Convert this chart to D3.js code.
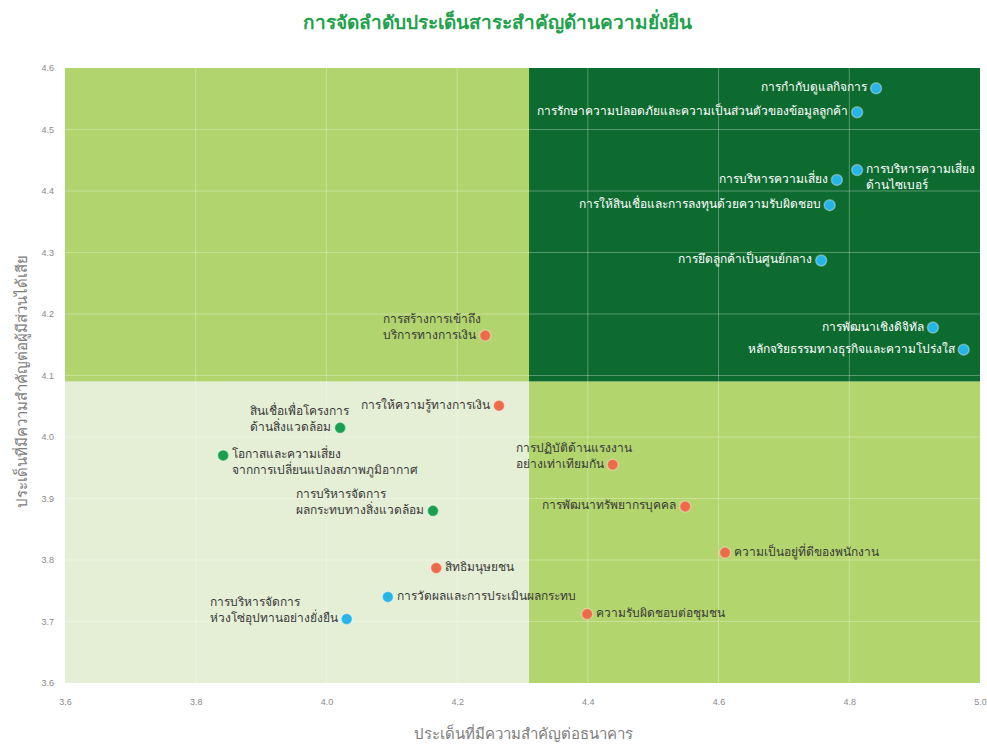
<!DOCTYPE html>
<html>
<head>
<meta charset="utf-8">
<script src="https://cdn.jsdelivr.net/npm/d3@7/dist/d3.min.js"></script>
<style>
  html, body { margin: 0; padding: 0; background: #ffffff; }
  svg { display: block; font-family: "Noto Sans", "DejaVu Sans", sans-serif; }
</style>
</head>
<body>
<svg id="chart" width="987" height="747"></svg>
<script>
// Materiality matrix: importance to the bank (x) vs importance to stakeholders (y)
const chartTitle = "การจัดลำดับประเด็นสาระสำคัญด้านความยั่งยืน";
const xTitle = "ประเด็นที่มีความสำคัญต่อธนาคาร";
const yTitle = "ประเด็นที่มีความสำคัญต่อผู้มีส่วนได้เสีย";

const xTicks = [3.6, 3.8, 4.0, 4.2, 4.4, 4.6, 4.8, 5.0];
const yTicks = [3.6, 3.7, 3.8, 3.9, 4.0, 4.1, 4.2, 4.3, 4.4, 4.5, 4.6];
const xDomain = [3.6, 5.0];
const yDomain = [3.6, 4.6];
const quadrantSplit = [4.31, 4.09]; // [x, y] thresholds

// Governance / economic topics
const governance = [
  { name: ["การกำกับดูแลกิจการ"], x: 4.841, y: 4.567, side: "left" },
  { name: ["การรักษาความปลอดภัยและความเป็นส่วนตัวของข้อมูลลูกค้า"], x: 4.812, y: 4.528, side: "left" },
  { name: ["การบริหารความเสี่ยง", "ด้านไซเบอร์"], x: 4.812, y: 4.434, side: "right" },
  { name: ["การบริหารความเสี่ยง"], x: 4.781, y: 4.418, side: "left" },
  { name: ["การให้สินเชื่อและการลงทุนด้วยความรับผิดชอบ"], x: 4.770, y: 4.377, side: "left" },
  { name: ["การยึดลูกค้าเป็นศูนย์กลาง"], x: 4.757, y: 4.287, side: "left" },
  { name: ["การพัฒนาเชิงดิจิทัล"], x: 4.928, y: 4.178, side: "left" },
  { name: ["หลักจริยธรรมทางธุรกิจและความโปร่งใส"], x: 4.975, y: 4.142, side: "left" },
  { name: ["การวัดผลและการประเมินผลกระทบ"], x: 4.094, y: 3.740, side: "right" },
  { name: ["การบริหารจัดการ", "ห่วงโซ่อุปทานอย่างยั่งยืน"], x: 4.031, y: 3.704, side: "left" }
];

// Social topics
const social = [
  { name: ["การสร้างการเข้าถึง", "บริการทางการเงิน"], x: 4.243, y: 4.165, side: "left" },
  { name: ["การให้ความรู้ทางการเงิน"], x: 4.264, y: 4.051, side: "left" },
  { name: ["การปฏิบัติด้านแรงงาน", "อย่างเท่าเทียมกัน"], x: 4.438, y: 3.955, side: "left" },
  { name: ["การพัฒนาทรัพยากรบุคคล"], x: 4.549, y: 3.887, side: "left" },
  { name: ["ความเป็นอยู่ที่ดีของพนักงาน"], x: 4.610, y: 3.812, side: "right" },
  { name: ["สิทธิมนุษยชน"], x: 4.168, y: 3.787, side: "right" },
  { name: ["ความรับผิดชอบต่อชุมชน"], x: 4.399, y: 3.712, side: "right" }
];

// Environmental topics
const environment = [
  { name: ["สินเชื่อเพื่อโครงการ", "ด้านสิ่งแวดล้อม"], x: 4.021, y: 4.015, side: "left" },
  { name: ["โอกาสและความเสี่ยง", "จากการเปลี่ยนแปลงสภาพภูมิอากาศ"], x: 3.842, y: 3.970, side: "right" },
  { name: ["การบริหารจัดการ", "ผลกระทบทางสิ่งแวดล้อม"], x: 4.163, y: 3.880, side: "left" }
];

const groups = [
  { points: governance, color: "#27b4e6" },
  { points: social, color: "#ee6a48" },
  { points: environment, color: "#18a04f" }
];

const svg = d3.select("#chart");
const m = { left: 65, right: 7, top: 68, bottom: 64 };
const W = 987, H = 747;

const x = d3.scaleLinear().domain(xDomain).range([m.left, W - m.right]);
const y = d3.scaleLinear().domain(yDomain).range([H - m.bottom, m.top]);

// Quadrant backgrounds
const [xs, ys] = quadrantSplit;
const quads = [
  { x0: xDomain[0], x1: xs, y0: ys, y1: yDomain[1], fill: "#b1d46e" },
  { x0: xs, x1: xDomain[1], y0: ys, y1: yDomain[1], fill: "#0d6b2f" },
  { x0: xDomain[0], x1: xs, y0: yDomain[0], y1: ys, fill: "#e5efd6" },
  { x0: xs, x1: xDomain[1], y0: yDomain[0], y1: ys, fill: "#b3d56d" }
];
svg.append("g").selectAll("rect").data(quads).join("rect")
  .attr("x", d => x(d.x0))
  .attr("y", d => y(d.y1))
  .attr("width", d => x(d.x1) - x(d.x0))
  .attr("height", d => y(d.y0) - y(d.y1))
  .attr("fill", d => d.fill);

// Grid lines
const grid = svg.append("g").attr("stroke", "#ffffff").attr("stroke-opacity", 0.3).attr("stroke-width", 1);
grid.selectAll("line.v").data(xTicks.slice(1, -1)).join("line").attr("class", "v")
  .attr("x1", d => x(d)).attr("x2", d => x(d))
  .attr("y1", y(yDomain[1])).attr("y2", y(yDomain[0]));
grid.selectAll("line.h").data(yTicks.slice(1, -1)).join("line").attr("class", "h")
  .attr("y1", d => y(d)).attr("y2", d => y(d))
  .attr("x1", x(xDomain[0])).attr("x2", x(xDomain[1]));

// Axes
const xAxis = svg.append("g")
  .attr("transform", `translate(0,${H - m.bottom})`)
  .call(d3.axisBottom(x).tickValues(xTicks).tickFormat(d3.format(".1f")).tickSize(0).tickPadding(16));
const yAxis = svg.append("g")
  .attr("transform", `translate(${m.left},0)`)
  .call(d3.axisLeft(y).tickValues(yTicks).tickFormat(d3.format(".1f")).tickSize(0).tickPadding(11));
[xAxis, yAxis].forEach(a => {
  a.select(".domain").remove();
  a.selectAll("text").attr("fill", "#8a8a8a").attr("font-size", 9);
});

// Titles
svg.append("text")
  .attr("x", 497).attr("y", 29)
  .attr("text-anchor", "middle")
  .attr("fill", "#22a14c")
  .attr("font-size", 19).attr("font-weight", "bold")
  .text(chartTitle);
svg.append("text")
  .attr("x", 523).attr("y", 739)
  .attr("text-anchor", "middle")
  .attr("fill", "#7d7d7d").attr("font-size", 15)
  .text(xTitle);
svg.append("text")
  .attr("transform", `translate(27,${(y(yDomain[0]) + y(yDomain[1])) / 2 + 6}) rotate(-90)`)
  .attr("text-anchor", "middle")
  .attr("fill", "#7d7d7d").attr("font-size", 15)
  .text(yTitle);

// Points and labels
const lineH = 16, gap = 9;
const inDark = d => d.x > xs && d.y > ys;
groups.forEach(gr => {
  const g = svg.append("g");
  gr.points.forEach(d => {
    const px = x(d.x), py = y(d.y);
    g.append("circle")
      .attr("cx", px).attr("cy", py).attr("r", 5.5)
      .attr("fill", gr.color)
      .attr("stroke", "#ffffff").attr("stroke-opacity", 0.35).attr("stroke-width", 1.5);
    const t = g.append("text")
      .attr("font-size", 12)
      .attr("fill", inDark(d) ? "#ffffff" : "#3a3a3a")
      .attr("dominant-baseline", "middle");
    const n = d.name.length;
    const spans = d.name.map((s, i) => t.append("tspan").text(s)
      .attr("y", d.side === "left" ? py - (n - 1 - i) * lineH : py + i * lineH));
    if (d.side === "right") {
      spans.forEach(sp => sp.attr("x", px + gap));
    } else {
      // last line ends next to the point; earlier lines share its left edge
      const lastW = spans[n - 1].node().getComputedTextLength();
      const left = px - gap - lastW;
      spans.forEach(sp => sp.attr("x", left));
    }
  });
});
</script>
</body>
</html>
